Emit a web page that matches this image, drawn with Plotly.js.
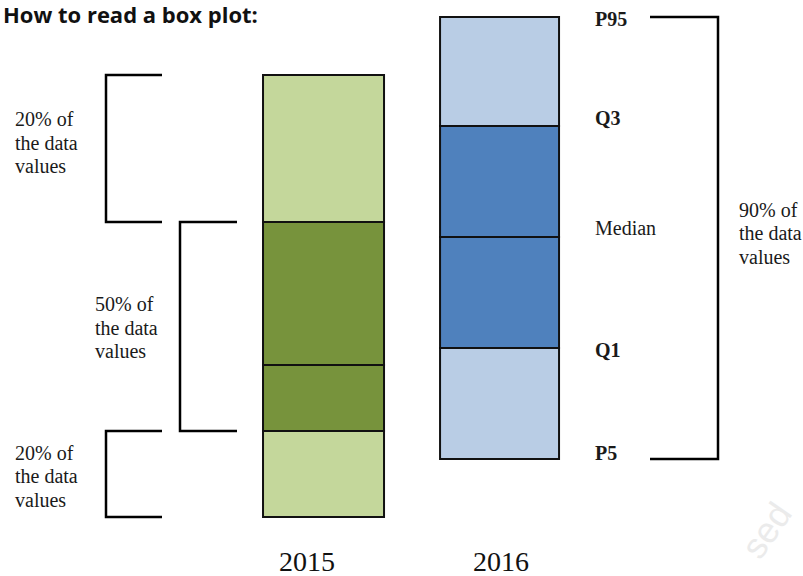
<!DOCTYPE html>
<html>
<head>
<meta charset="utf-8">
<script src="https://cdn.plot.ly/plotly-3.0.1.min.js"></script>
<style>html,body{margin:0;padding:0;background:#fff;}#chart{width:803px;height:576px;}</style>
</head>
<body>
<div id="chart"></div>
<script>
// ---- data ----
const years = ['2015', '2016'];
const p5 = [59, 117];
const q1 = [145, 228];
const median = [211, 339];
const q3 = [354, 450];
const p95 = [501, 559];
const tailColors = ['#c4d79b', '#b9cde5'];
const boxColors = ['#77933c', '#4f81bd'];
const statLabels = ['P95', 'Q3', 'Median', 'Q1', 'P5'];
const pctLeftTop = ['20% of', 'the data', 'values'];
const pctMiddle = ['50% of', 'the data', 'values'];
const pctLeftBottom = ['20% of', 'the data', 'values'];
const pctRight = ['90% of', 'the data', 'values'];

const W = 803, H = 576;
const widths = [0.6875, 0.676];
const diff = (a, b) => a.map((v, i) => v - b[i]);

function seg(lower, upper, colors) {
  return {
    type: 'bar', x: years, base: lower, y: diff(upper, lower), width: widths,
    marker: {color: colors, line: {color: '#111', width: 2}},
    hoverinfo: 'skip', showlegend: false
  };
}
const traces = [
  seg(p5, q1, tailColors),
  seg(q1, median, boxColors),
  seg(median, q3, boxColors),
  seg(q3, p95, tailColors)
];

const px = v => v / W;
function bracket(xa, xb, y1, y2) {
  return {
    type: 'path', xref: 'paper', yref: 'y',
    path: `M ${px(xa)},${y1} L ${px(xb)},${y1} L ${px(xb)},${y2} L ${px(xa)},${y2}`,
    line: {color: '#000', width: 2.5}
  };
}
const shapes = [
  bracket(162, 106, p95[0], q3[0]),
  bracket(237, 180, q3[0], q1[0]),
  bracket(162, 106, q1[0], p5[0]),
  bracket(650, 718, p95[1], p5[1])
];

const serif = 'Liberation Serif, Times New Roman, serif';
const ann = [];
function block(lines, xLeft, yVal, yshift) {
  const n = lines.length, step = 23.5;
  lines.forEach((t, i) => {
    ann.push({
      text: t, xref: 'paper', x: px(xLeft), xanchor: 'left',
      yref: 'y', y: yVal, yanchor: 'middle',
      yshift: yshift + ((n - 1) / 2 - i) * step,
      showarrow: false, font: {family: serif, size: 20, color: '#1a1a1a'}
    });
  });
}
block(pctLeftTop, 13, (q3[0] + p95[0]) / 2, 6);
block(pctMiddle, 93, (q1[0] + q3[0]) / 2, -1);
block(pctLeftBottom, 13, (p5[0] + q1[0]) / 2, -2);
block(pctRight, 737, (p5[1] + p95[1]) / 2, 5);

const statVals = [p95[1], q3[1], median[1], q1[1], p5[1]];
const statShift = [-2, 8, 9, -2, 6];
statLabels.forEach((t, i) => {
  ann.push({
    text: t === 'Median' ? t : '<b>' + t + '</b>',
    xref: 'paper', x: px(593), xanchor: 'left',
    yref: 'y', y: statVals[i], yanchor: 'middle', yshift: statShift[i],
    showarrow: false, font: {family: serif, size: 20, color: '#1a1a1a'}
  });
});

const yearShift = [-17, 1];
years.forEach((t, i) => {
  ann.push({
    text: t, xref: 'x', x: i, xanchor: 'center', xshift: yearShift[i],
    yref: 'paper', y: (H - 561) / H, yanchor: 'middle',
    showarrow: false, font: {family: serif, size: 28, color: '#111'}
  });
});

ann.push({
  text: '<b>How to read a box plot:</b>', xref: 'paper', x: 0, xanchor: 'left', xshift: 1,
  yref: 'paper', y: 1, yanchor: 'top', yshift: 3,
  showarrow: false, font: {family: 'Open Sans, sans-serif', size: 22, color: '#111'}
});
ann.push({
  text: 'sed', xref: 'paper', x: px(766), yref: 'paper', y: (H - 530) / H,
  xanchor: 'center', yanchor: 'middle', textangle: -55,
  showarrow: false, font: {family: 'Liberation Sans, sans-serif', size: 36, color: '#ebebeb'}
});

const layout = {
  width: W, height: H,
  margin: {l: 0, r: 0, t: 0, b: 0},
  paper_bgcolor: '#fff', plot_bgcolor: '#fff',
  barmode: 'overlay', showlegend: false,
  xaxis: {type: 'category', range: [-1.838, 2.724], visible: false, fixedrange: true},
  yaxis: {range: [0, H], visible: false, fixedrange: true},
  shapes: shapes, annotations: ann
};
Plotly.newPlot('chart', traces, layout, {displayModeBar: false, staticPlot: true});
</script>
</body>
</html>
